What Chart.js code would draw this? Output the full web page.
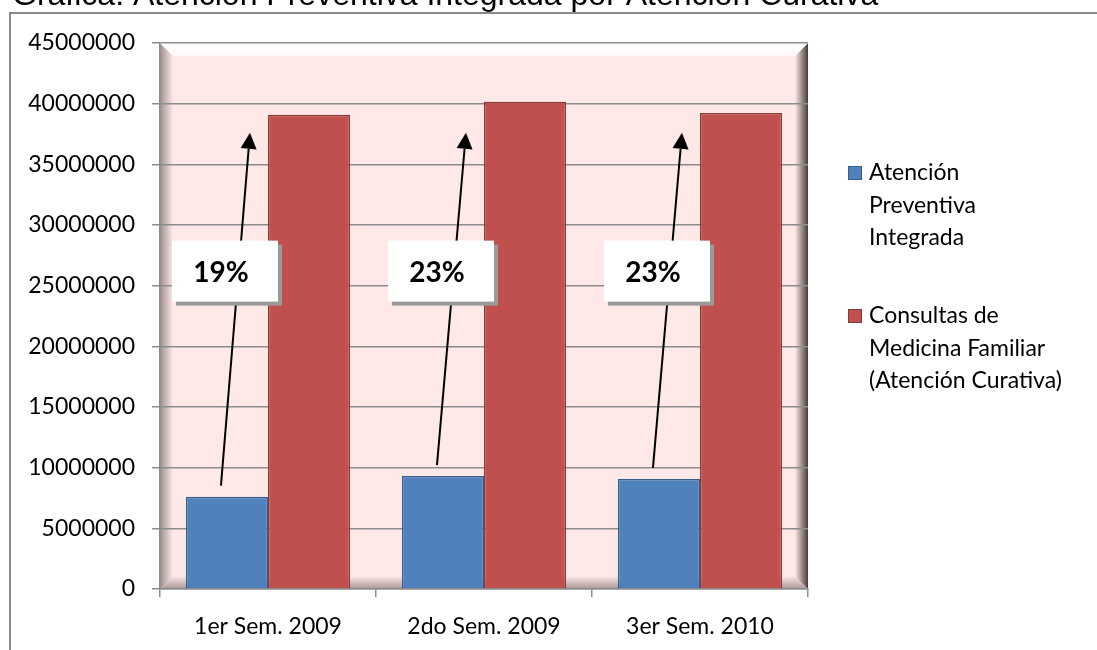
<!DOCTYPE html>
<html>
<head>
<meta charset="utf-8">
<script src="https://cdn.jsdelivr.net/npm/chart.js@4/dist/chart.umd.min.js"></script>
<style>
  html, body { margin: 0; padding: 0; background: #fff; overflow: hidden; }
  canvas { display: block; }
</style>
</head>
<body>
<canvas id="atencionChart" width="1097" height="650"></canvas>
<script>
var titulo = 'Gráfica. Atención Preventiva Integrada por Atención Curativa';
var semestres = ['1er Sem. 2009', '2do Sem. 2009', '3er Sem. 2010'];
var preventiva = [7610000, 9310000, 9070000];
var curativa = [39080000, 40150000, 39240000];
var nombresSeries = ['Atención Preventiva Integrada', 'Consultas de Medicina Familiar (Atención Curativa)'];
var lineasLeyenda = [
    ['Atención', 'Preventiva', 'Integrada'],
    ['Consultas de', 'Medicina Familiar', '(Atención Curativa)']
];
var yMax = 45000000;
var yPaso = 5000000;

var colores = ['#4f81bd', '#c0504d'];
var bordes = ['#385d8a', '#8c3836'];
var fuente = 'Lato, "Open Sans", sans-serif';

// fondo rosado con bisel tipo Excel, marco exterior y titulo
var fondoPlugin = {
    id: 'fondo',
    beforeDraw: function (chart) {
        var ctx = chart.ctx, a = chart.chartArea;
        ctx.save();
        ctx.fillStyle = '#fff';
        ctx.fillRect(0, 0, chart.width, chart.height);

        ctx.fillStyle = '#000';
        ctx.font = '32px "Liberation Sans", Arial, sans-serif';
        ctx.textBaseline = 'alphabetic';
        ctx.textAlign = 'left';
        ctx.fillText(titulo, 12, 5);

        ctx.strokeStyle = '#8a8a8a';
        ctx.lineWidth = 2;
        ctx.beginPath();
        ctx.moveTo(10, chart.height);
        ctx.lineTo(10, 13);
        ctx.lineTo(chart.width, 13);
        ctx.stroke();

        ctx.fillStyle = '#fee8e8';
        ctx.fillRect(a.left, a.top, a.width, a.height);

        var b = 13;
        // pared izquierda
        var g = ctx.createLinearGradient(a.left, 0, a.left + b, 0);
        g.addColorStop(0, 'rgba(110,95,95,0.65)');
        g.addColorStop(1, 'rgba(110,95,95,0)');
        ctx.fillStyle = g;
        ctx.beginPath();
        ctx.moveTo(a.left, a.top);
        ctx.lineTo(a.left + b, a.top + b);
        ctx.lineTo(a.left + b, a.bottom - b);
        ctx.lineTo(a.left, a.bottom);
        ctx.fill();

        // pared derecha
        g = ctx.createLinearGradient(a.right - b, 0, a.right, 0);
        g.addColorStop(0, 'rgba(60,50,50,0)');
        g.addColorStop(1, 'rgba(60,50,50,0.95)');
        ctx.fillStyle = g;
        ctx.beginPath();
        ctx.moveTo(a.right, a.top);
        ctx.lineTo(a.right - b, a.top + b);
        ctx.lineTo(a.right - b, a.bottom - b);
        ctx.lineTo(a.right, a.bottom);
        ctx.fill();

        // piso
        g = ctx.createLinearGradient(0, a.bottom - b, 0, a.bottom);
        g.addColorStop(0, 'rgba(110,95,95,0)');
        g.addColorStop(1, 'rgba(110,95,95,0.6)');
        ctx.fillStyle = g;
        ctx.beginPath();
        ctx.moveTo(a.left, a.bottom);
        ctx.lineTo(a.left + b, a.bottom - b);
        ctx.lineTo(a.right - b, a.bottom - b);
        ctx.lineTo(a.right, a.bottom);
        ctx.fill();

        // borde superior claro
        g = ctx.createLinearGradient(0, a.top, 0, a.top + b);
        g.addColorStop(0, '#ffffff');
        g.addColorStop(1, '#fff8f8');
        ctx.fillStyle = g;
        ctx.beginPath();
        ctx.moveTo(a.left, a.top);
        ctx.lineTo(a.right, a.top);
        ctx.lineTo(a.right - b, a.top + b);
        ctx.lineTo(a.left + b, a.top + b);
        ctx.fill();
        ctx.restore();
    }
};

// flechas y recuadros con el porcentaje preventiva / curativa
var flechasPlugin = {
    id: 'flechas',
    afterDatasetsDraw: function (chart) {
        var ctx = chart.ctx, ys = chart.scales.y;
        var meta = chart.getDatasetMeta(0);
        ctx.save();
        meta.data.forEach(function (bar, i) {
            var x0 = bar.x - 6, y0 = bar.y - 11;
            var x1 = bar.x + 23, y1 = ys.getPixelForValue(37600000);
            var ang = Math.atan2(y1 - y0, x1 - x0);
            var largo = 16, ancho = 8;
            var bx = x1 - largo * Math.cos(ang), by = y1 - largo * Math.sin(ang);

            ctx.strokeStyle = '#000';
            ctx.lineWidth = 2;
            ctx.beginPath();
            ctx.moveTo(x0, y0);
            ctx.lineTo(bx, by);
            ctx.stroke();

            ctx.fillStyle = '#000';
            ctx.beginPath();
            ctx.moveTo(x1, y1);
            ctx.lineTo(bx + ancho * Math.sin(ang), by - ancho * Math.cos(ang));
            ctx.lineTo(bx - ancho * Math.sin(ang), by + ancho * Math.cos(ang));
            ctx.closePath();
            ctx.fill();

            var cx = bar.x - 2, cy = ys.getPixelForValue(26200000);
            var w = 106, h = 61;
            ctx.fillStyle = '#9a9a9a';
            ctx.fillRect(cx - w / 2 + 4, cy - h / 2 + 4, w, h);
            ctx.fillStyle = '#fff';
            ctx.fillRect(cx - w / 2, cy - h / 2, w, h);

            var pct = Math.round(preventiva[i] / curativa[i] * 100) + '%';
            ctx.fillStyle = '#000';
            ctx.font = 'bold 28px ' + fuente;
            ctx.textAlign = 'center';
            ctx.textBaseline = 'middle';
            ctx.fillText(pct, cx - 4, cy + 2);
        });
        ctx.restore();
    }
};

// leyenda a la derecha con etiquetas en varias lineas
var leyendaPlugin = {
    id: 'leyendaMulti',
    afterDraw: function (chart) {
        var ctx = chart.ctx;
        var inicios = [173, 316];
        ctx.save();
        ctx.font = '23px ' + fuente;
        ctx.textAlign = 'left';
        ctx.textBaseline = 'middle';
        chart.data.datasets.forEach(function (ds, i) {
            var y = inicios[i];
            ctx.fillStyle = ds.backgroundColor;
            ctx.fillRect(848, y - 7, 14, 14);
            ctx.strokeStyle = ds.borderColor;
            ctx.lineWidth = 1;
            ctx.strokeRect(848.5, y - 6.5, 13, 13);
            ctx.fillStyle = '#000';
            lineasLeyenda[i].forEach(function (t, k) {
                ctx.fillText(t, 869, y + k * 32.5);
            });
        });
        ctx.restore();
    }
};

var gris = '#8c8c8c';

new Chart(document.getElementById('atencionChart'), {
    type: 'bar',
    data: {
        labels: semestres,
        datasets: [{
            label: nombresSeries[0],
            data: preventiva,
            backgroundColor: colores[0],
            borderColor: bordes[0],
            borderWidth: 1.5
        }, {
            label: nombresSeries[1],
            data: curativa,
            backgroundColor: colores[1],
            borderColor: bordes[1],
            borderWidth: 1.5
        }]
    },
    options: {
        responsive: false,
        animation: false,
        datasets: {
            bar: { categoryPercentage: 0.76, barPercentage: 1 }
        },
        layout: {
            padding: { top: 43, right: 289, bottom: 0, left: 0 }
        },
        scales: {
            x: {
                grid: { offset: true, drawOnChartArea: false, tickLength: 8, color: gris, lineWidth: 1.5 },
                border: { color: gris, width: 1.5 },
                ticks: { color: '#000', font: { family: fuente, size: 23 }, padding: 16 },
                afterFit: function (s) { s.height = 61; }
            },
            y: {
                min: 0,
                max: yMax,
                grid: { color: gris, lineWidth: 1.5, tickLength: 8 },
                border: { color: gris, width: 1.5 },
                ticks: {
                    stepSize: yPaso,
                    color: '#000',
                    font: { family: fuente, size: 23 },
                    padding: 17,
                    callback: function (v) { return String(v); }
                },
                afterFit: function (s) { s.width = 160; }
            }
        },
        plugins: {
            legend: { display: false },
            tooltip: { enabled: false }
        }
    },
    plugins: [fondoPlugin, flechasPlugin, leyendaPlugin]
});
</script>
</body>
</html>
